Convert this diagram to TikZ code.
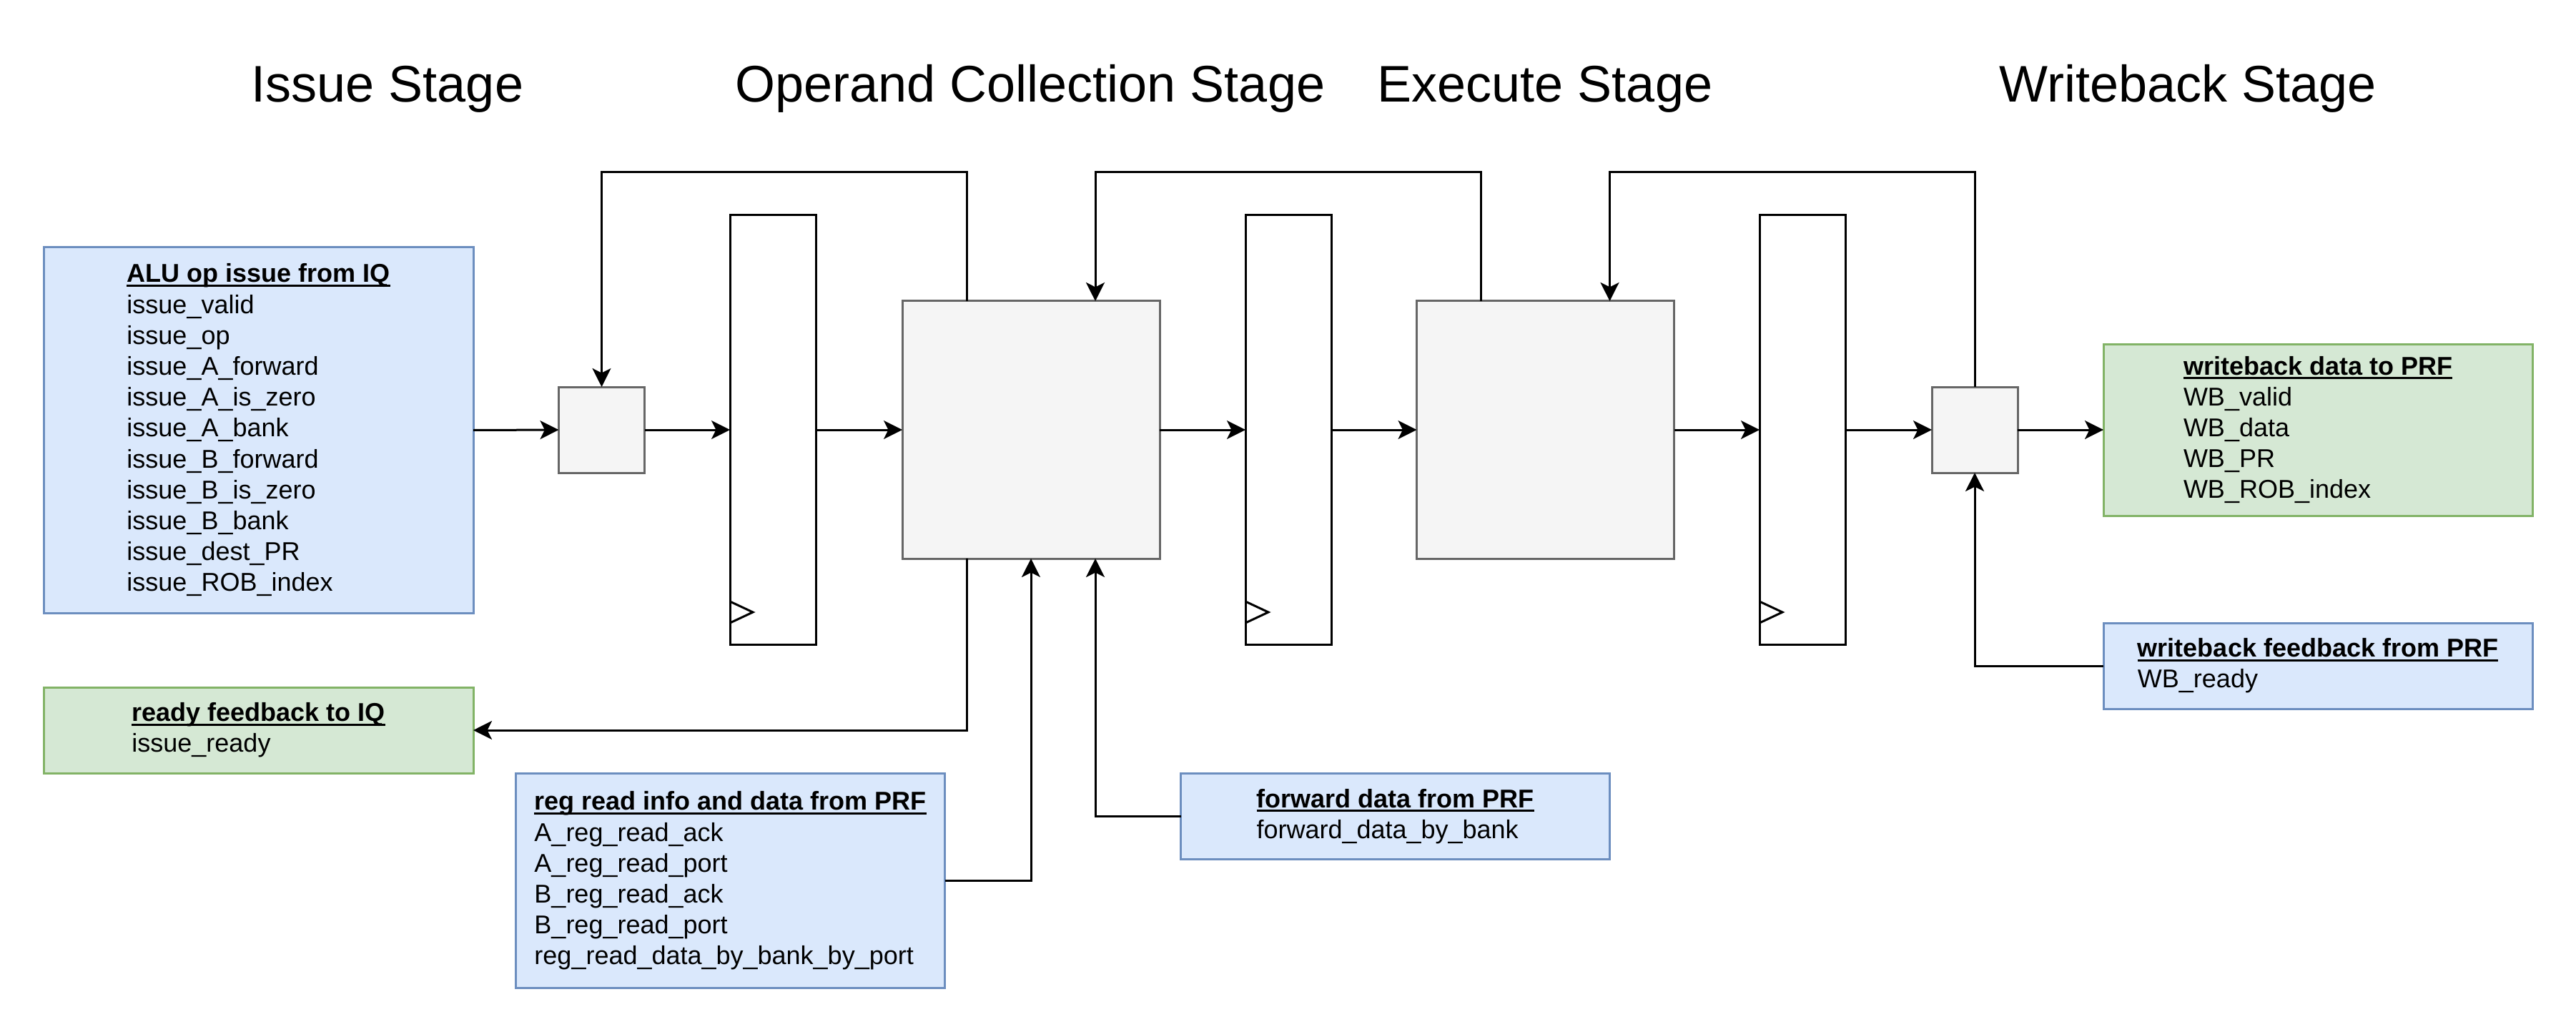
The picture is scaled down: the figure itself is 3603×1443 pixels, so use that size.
\documentclass[tikz,border=0pt]{standalone}
\usepackage{fontspec}
\setmainfont{Liberation Sans}
\usetikzlibrary{arrows.meta,calc}

\definecolor{sigfill}{HTML}{DAE8FC}
\definecolor{sigline}{HTML}{6C8EBF}
\definecolor{outfill}{HTML}{D5E8D4}
\definecolor{outline}{HTML}{82B366}
\definecolor{unitfill}{HTML}{F5F5F5}
\definecolor{unitline}{HTML}{666666}

% bold, underlined heading of a signal list
\newsavebox\hdrbox
\newcommand\hdrline[1]{\sbox\hdrbox{\bfseries #1}\usebox\hdrbox\llap{\rule[-1.5pt]{\wd\hdrbox}{0.75pt}}}

\begin{document}
\begin{tikzpicture}[
  x=0.25pt, y=-0.25pt, line width=0.75pt,
  dims/.style 2 args={minimum width=#1*0.25pt, minimum height=#2*0.25pt},
  reg/.style={draw=black, fill=white, inner sep=0pt, outer sep=0pt},
  unit/.style={draw=unitline, fill=unitfill, inner sep=0pt, outer sep=0pt},
  sigbox/.style={draw=sigline, fill=sigfill, inner sep=0pt, outer sep=0pt,
    align=left, font=\fontsize{9}{10.8}\selectfont},
  outbox/.style={draw=outline, fill=outfill, inner sep=0pt, outer sep=0pt,
    align=left, font=\fontsize{9}{10.8}\selectfont},
  stagetitle/.style={font=\fontsize{18}{21.6}\selectfont, anchor=base, inner sep=0pt},
  wire/.style={-{Stealth[length=6.5pt,width=6.5pt,inset=1.6pt]}, line width=0.75pt},
]
\useasboundingbox (0,0) rectangle (3603,1443);

% stage titles
\node[stagetitle] (t1) at (542,143) {Issue Stage};
\node[stagetitle] (t2) at (1441,143) {Operand Collection Stage};
\node[stagetitle] (t3) at (2161,143) {Execute Stage};
\node[stagetitle] (t4) at (3060,143) {Writeback Stage};

% interface signal groups
\node[sigbox, dims={601}{511}] (alu) at (361.5,601.5) {\hdrline{ALU op issue from IQ}\\
  issue\_valid\\ issue\_op\\ issue\_A\_forward\\ issue\_A\_is\_zero\\ issue\_A\_bank\\
  issue\_B\_forward\\ issue\_B\_is\_zero\\ issue\_B\_bank\\ issue\_dest\_PR\\ issue\_ROB\_index};
\node[outbox, dims={601}{120}] (ready) at (361.5,1021) {\hdrline{ready feedback to IQ}\\ issue\_ready};
\node[sigbox, dims={600}{300}] (regread) at (1021.5,1231.5) {\hdrline{reg read info and data from PRF}\\
  A\_reg\_read\_ack\\ A\_reg\_read\_port\\ B\_reg\_read\_ack\\ B\_reg\_read\_port\\ reg\_read\_data\_by\_bank\_by\_port};
\node[sigbox, dims={600}{120}] (fwd) at (1951.5,1141.5) {\hdrline{forward data from PRF}\\ forward\_data\_by\_bank};
\node[outbox, dims={600}{240}] (wbdata) at (3242,601) {\hdrline{writeback data to PRF}\\
  WB\_valid\\ WB\_data\\ WB\_PR\\ WB\_ROB\_index};
\node[sigbox, dims={600}{120}] (wbfb) at (3242,931) {\hdrline{writeback feedback from PRF}\\ WB\_ready};

% pipeline blocks
\node[unit, dims={120}{120}] (mux1) at (841.5,601) {};
\node[reg, dims={120}{600}] (r1) at (1081,601) {};
\node[unit, dims={360}{360}] (oc) at (1442,601) {};
\node[reg, dims={120}{600}] (r2) at (1802,601) {};
\node[unit, dims={360}{360}] (ex) at (2161.5,601) {};
\node[reg, dims={120}{600}] (r3) at (2521,601) {};
\node[unit, dims={120}{120}] (mux3) at (2762,601) {};

% clock inputs of the pipeline registers
\foreach \r in {r1,r2,r3}
  \draw ($(\r.south west)+(0,-60)$) -- ($(\r.south west)+(32,-45)$) -- ($(\r.south west)+(0,-30)$);

% forward datapath
\draw[wire] (alu.east) -- (mux1.west);
\draw[wire] (mux1.east) -- (r1.west);
\draw[wire] (r1.east) -- (oc.west);
\draw[wire] (oc.east) -- (r2.west);
\draw[wire] (r2.east) -- (ex.west);
\draw[wire] (ex.east) -- (r3.west);
\draw[wire] (r3.east) -- (mux3.west);
\draw[wire] (mux3.east) -- (wbdata.west);

% feedback loops over the top
\draw[wire] ($(oc.north)+(-90,0)$) -- ++(0,-180) -| (mux1.north);
\draw[wire] ($(ex.north)+(-90,0)$) -- ++(0,-180) -| ($(oc.north)+(90,0)$);
\draw[wire] (mux3.north) -- ++(0,-300) -| ($(ex.north)+(90,0)$);

% side interfaces
\draw[wire] ($(oc.south)+(-90,0)$) |- (ready.east);
\draw[wire] (regread.east) -| (oc.south);
\draw[wire] (fwd.west) -| ($(oc.south)+(90,0)$);
\draw[wire] (wbfb.west) -| (mux3.south);
\end{tikzpicture}
\end{document}
